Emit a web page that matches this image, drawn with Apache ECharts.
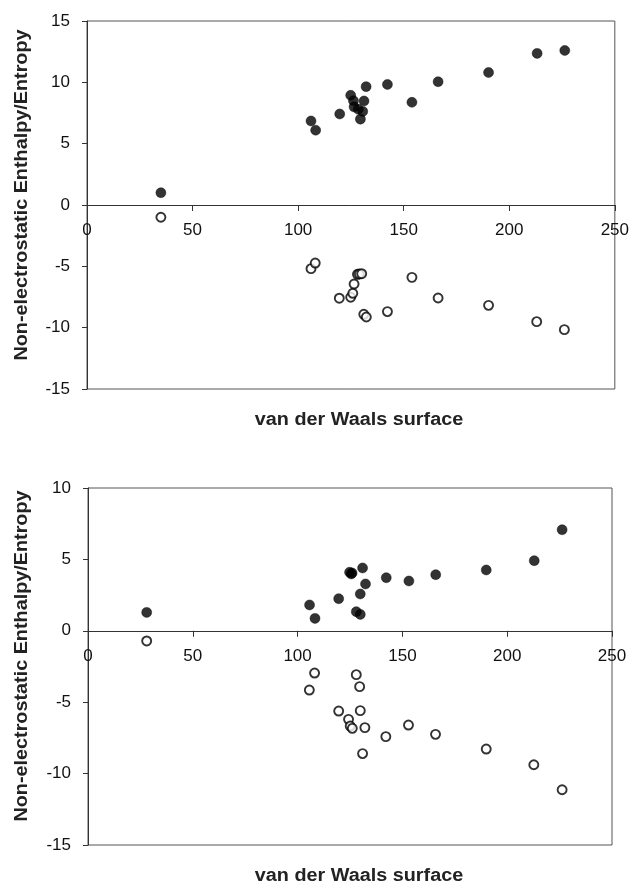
<!DOCTYPE html>
<html>
<head>
<meta charset="utf-8">
<script src="https://cdn.jsdelivr.net/npm/echarts@6/dist/echarts.min.js"></script>
<style>
html,body{margin:0;padding:0;background:#fff;}
#main{width:632px;height:884px;}
</style>
</head>
<body>
<div id="main"></div>
<script>
// Top panel
var topFilledX = [35, 106.1, 108.3, 119.7, 124.9, 126.2, 126.5, 128.5, 130.6, 129.5, 131.2, 132.2, 142.3, 153.9, 166.3, 190.2, 213.2, 226.3];
var topFilledY = [1.0, 6.85, 6.1, 7.42, 8.94, 8.5, 8.0, 7.8, 7.63, 7.0, 8.48, 9.65, 9.83, 8.37, 10.05, 10.8, 12.36, 12.6];
var topOpenX = [35, 106.1, 108.1, 119.5, 124.9, 125.9, 126.5, 128.1, 129, 130.1, 131.1, 132.3, 142.3, 153.9, 166.3, 190.2, 213, 226.1];
var topOpenY = [-1.0, -5.19, -4.73, -7.6, -7.52, -7.2, -6.44, -5.65, -5.62, -5.6, -8.91, -9.13, -8.69, -5.9, -7.58, -8.18, -9.51, -10.16];
// Bottom panel
var botFilledX = [28, 105.7, 108.3, 119.6, 124.8, 125.6, 126.0, 131, 132.4, 129.9, 128, 129.9, 142.3, 153.1, 165.9, 190, 212.9, 226.2];
var botFilledY = [1.29, 1.81, 0.87, 2.25, 4.1, 3.98, 4.05, 4.4, 3.28, 2.58, 1.34, 1.15, 3.72, 3.49, 3.93, 4.26, 4.91, 7.08];
var botOpenX = [28, 108.1, 105.6, 128, 129.6, 119.6, 129.9, 124.3, 125.1, 126.1, 132.1, 131, 142.1, 152.9, 165.8, 190, 212.7, 226.2];
var botOpenY = [-0.71, -2.96, -4.15, -3.07, -3.91, -5.62, -5.59, -6.2, -6.67, -6.83, -6.78, -8.6, -7.41, -6.6, -7.25, -8.28, -9.38, -11.13];
// Axes
var xMin = 0, xMax = 250, xStep = 50;
var topYMin = -15, topYMax = 15, botYMin = -15, botYMax = 10, yStep = 5;
var yTitle = 'Non-electrostatic Enthalpy/Entropy';
var xTitle = 'van der Waals surface';

function pairs(xs, ys){ return xs.map(function(x,i){ return [x, ys[i]]; }); }

var FONT = '"Liberation Sans", Arial, sans-serif';
var lineCol = '#333';

var grids = [
  {left: 87, top: 21, width: 528, height: 368},
  {left: 88, top: 488, width: 524, height: 357}
];
// pixel distance from grid bottom to the y=0 line (so x axis sits on zero)
function zeroOffset(g, mn, mx){ return -g.height * (0 - mn) / (mx - mn); }

function xAxisCfg(gi, off){
  return {
    gridIndex: gi, type: 'value', min: xMin, max: xMax, interval: xStep,
    position: 'bottom', offset: off,
    axisLine: {show: true, onZero: false, lineStyle: {color: lineCol, width: 1}},
    axisTick: {show: true, inside: false, length: 6, lineStyle: {color: lineCol}},
    axisLabel: {color: '#111', fontSize: 17, fontFamily: FONT, margin: 17},
    splitLine: {show: false}
  };
}
function yAxisCfg(gi, mn, mx){
  return {
    gridIndex: gi, type: 'value', min: mn, max: mx, interval: yStep,
    axisLine: {show: true, lineStyle: {color: lineCol, width: 1}},
    axisTick: {show: true, inside: false, length: 5, lineStyle: {color: lineCol}},
    axisLabel: {color: '#111', fontSize: 17, fontFamily: FONT, margin: 17},
    splitLine: {show: false}
  };
}
var filledStyle = {color: '#000', borderColor: '#000', borderWidth: 0.5};
var openStyle = {color: '#fff', borderColor: '#000', borderWidth: 1.9};

var option = {
  animation: false,
  backgroundColor: '#fff',
  grid: grids.map(function(g){
    return {left: g.left, top: g.top, width: g.width, height: g.height, show: true,
      borderColor: '#555', borderWidth: 1, backgroundColor: 'transparent'};
  }),
  xAxis: [
    xAxisCfg(0, zeroOffset(grids[0], topYMin, topYMax)),
    xAxisCfg(1, zeroOffset(grids[1], botYMin, botYMax))
  ],
  yAxis: [yAxisCfg(0, topYMin, topYMax), yAxisCfg(1, botYMin, botYMax)],
  series: [
    {type: 'scatter', xAxisIndex: 0, yAxisIndex: 0, symbolSize: 10, itemStyle: filledStyle, data: pairs(topFilledX, topFilledY)},
    {type: 'scatter', xAxisIndex: 0, yAxisIndex: 0, symbolSize: 9, itemStyle: openStyle, data: pairs(topOpenX, topOpenY)},
    {type: 'scatter', xAxisIndex: 1, yAxisIndex: 1, symbolSize: 10, itemStyle: filledStyle, data: pairs(botFilledX, botFilledY)},
    {type: 'scatter', xAxisIndex: 1, yAxisIndex: 1, symbolSize: 9, itemStyle: openStyle, data: pairs(botOpenX, botOpenY)}
  ],
  graphic: [
    {type: 'text', x: 22, y: 195, rotation: Math.PI/2, scaleX: 1.1,
      style: {text: yTitle, align: 'center', verticalAlign: 'middle', font: 'bold 18px ' + FONT, fill: '#222'}},
    {type: 'text', x: 22, y: 656, rotation: Math.PI/2, scaleX: 1.1,
      style: {text: yTitle, align: 'center', verticalAlign: 'middle', font: 'bold 18px ' + FONT, fill: '#222'}},
    {type: 'text', x: 359, y: 420, scaleX: 1.1,
      style: {text: xTitle, align: 'center', verticalAlign: 'middle', font: 'bold 18px ' + FONT, fill: '#222'}},
    {type: 'text', x: 359, y: 876, scaleX: 1.1,
      style: {text: xTitle, align: 'center', verticalAlign: 'middle', font: 'bold 18px ' + FONT, fill: '#222'}}
  ]
};
var chart = echarts.init(document.getElementById('main'), null, {renderer: 'canvas'});
chart.setOption(option);
</script>
</body>
</html>
